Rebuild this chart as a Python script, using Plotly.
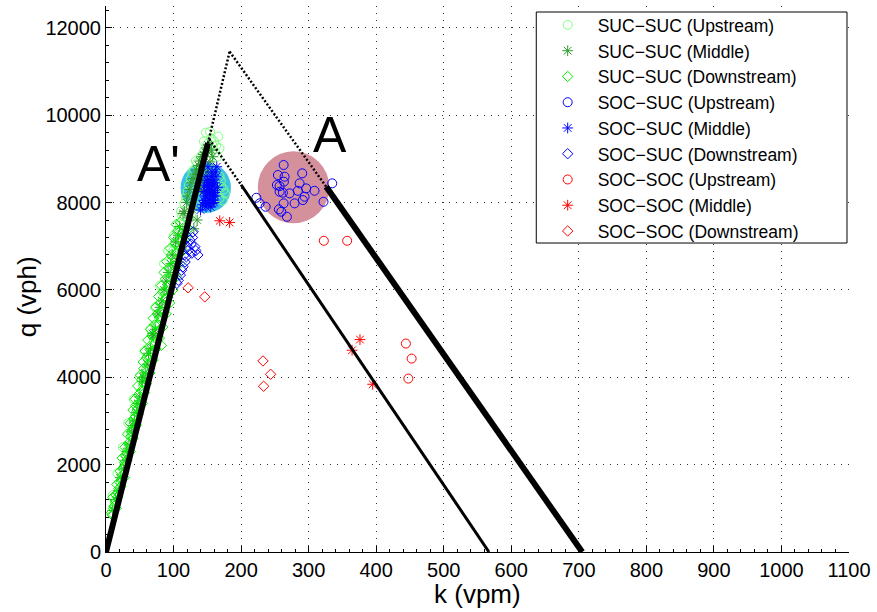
import plotly.graph_objects as go

# ---------------- data ----------------
# SUC-SUC Upstream (light green circles)
suc_up_k = [13, 22, 30, 38, 47, 55, 63, 70, 78, 84, 90, 95, 100, 104, 106, 110, 113, 116, 121, 126,
            130, 135, 140, 146, 151, 154, 156, 160, 166, 163, 168, 165, 171, 176, 173, 168, 131, 137,
            142, 126, 120, 115, 97, 88, 75, 108, 60, 43, 27, 18,
            10, 17, 25, 33, 41, 50, 57, 66, 73, 80, 86, 92, 101, 111, 118, 123, 128, 133, 145, 148,
            158, 162, 170, 174, 168]
suc_up_q = [1100, 1600, 2200, 2700, 3300, 3800, 4400, 4900, 5400, 5800, 6200, 6500, 6900, 7100, 7300,
            7500, 7700, 7980, 8250, 8550, 8750, 8900, 9050, 9200, 9350, 9620, 9470, 9400, 9510, 9300,
            9240, 9050, 8360, 8210, 8050, 8600, 7950, 8300, 8600, 7700, 7400, 7250, 6700, 6000, 5200,
            6950, 4200, 3100, 2000, 1350,
            1300, 1800, 2400, 2950, 3500, 4000, 4600, 5100, 5600, 6100, 6600, 6900, 7250, 7800, 8100,
            8400, 8700, 8950, 9400, 9600, 9300, 9150, 8500, 8300, 8100]

# SUC-SUC Middle (dark green asterisks)
suc_mid_k = [10, 18, 26, 34, 42, 50, 58, 66, 73, 80, 86, 92, 98, 103, 109, 114, 119, 124, 129, 134,
             139, 144, 149, 151, 156, 158, 154, 150, 146, 140, 135, 130, 127, 122, 117, 112, 106, 100,
             94, 61, 45, 29, 14, 38, 54, 70, 83,
             21, 31, 40, 47, 55, 63, 69, 77, 89, 96, 107, 116, 121, 126, 132, 137, 142, 147]
suc_mid_q = [950, 1400, 1900, 2450, 3000, 3550, 4100, 4650, 5100, 5600, 6000, 6400, 6800, 7100, 7450,
             7750, 8000, 8300, 8550, 8750, 8950, 9100, 9250, 9320, 9200, 9050, 8930, 8700, 8500, 8300,
             7600, 7400, 7850, 7650, 7300, 7000, 6650, 6300, 5900, 4300, 3200, 2100, 1200, 2750, 3900,
             4950, 5750,
             1700, 2300, 2900, 3400, 4000, 4550, 5000, 5450, 6200, 6600, 7250, 7800, 8150, 8450, 8650,
             8850, 9050, 9150]

# SUC-SUC Downstream (bright green diamonds)
suc_dn_k = [9, 11, 14, 15, 19, 20, 24, 25, 28, 29, 33, 34, 37, 39, 42, 44, 46, 49, 51, 53, 56, 58, 61,
            63, 66, 68, 71, 73, 76, 78, 81, 83, 86, 88, 91, 93, 96, 98, 101, 103, 106, 108, 111, 113,
            12, 17, 22, 27, 31, 36, 40, 45, 48, 54, 57, 60, 65, 70, 74, 79, 84, 89, 94, 99, 104, 109,
            114, 118, 82,
            8, 15, 10, 18, 16, 23, 21, 27, 24, 31, 28, 35, 32, 38, 36, 41, 40, 44, 43, 48, 47, 53, 51,
            56, 55, 60, 58, 64, 62, 68, 66, 72, 70, 76, 74, 80, 78, 84, 82, 88, 86, 93, 90, 97, 95,
            102, 100, 106, 104, 110]
suc_dn_q = [850, 1000, 1150, 1300, 1450, 1600, 1750, 1900, 2050, 2200, 2350, 2500, 2650, 2800, 2950,
            3100, 3250, 3400, 3550, 3700, 3850, 4000, 4150, 4300, 4450, 4600, 4750, 4900, 5050, 5200,
            5350, 5500, 5650, 5800, 5950, 6100, 6250, 6400, 6550, 6700, 6850, 7000, 7150, 7300,
            1050, 1250, 1500, 1700, 2100, 2300, 2600, 2900, 3150, 3400, 3650, 3850, 4100, 4400, 4650,
            4900, 5150, 5450, 5700, 6000, 6300, 6600, 6900, 7200, 4730,
            900, 1000, 1250, 1350, 1550, 1650, 1850, 1950, 2150, 2250, 2400, 2450, 2700, 2750, 2950,
            3050, 3250, 3350, 3500, 3600, 3800, 3950, 4050, 4200, 4350, 4450, 4600, 4700, 4850, 4950,
            5100, 5200, 5350, 5450, 5600, 5700, 5850, 5950, 6100, 6250, 6400, 6500, 6650, 6800, 6950,
            7050, 7200, 7350, 7500, 7550]

# SOC-SUC Upstream (blue circles)
soc_suc_up_k = [263, 254.5, 264.4, 263.4, 253, 257, 290.5, 286.6, 296.4, 284, 308.7, 271.8, 261.9, 294,
                279.2, 263, 259.5, 267.8, 322, 334.9, 222.6, 227.5, 236.3, 257, 256, 291.4]
soc_suc_up_q = [8860, 8630, 8592, 8477, 8401, 8378, 8669, 8440, 8325, 8270, 8270, 8211, 8225, 8133,
                7982, 7982, 7790, 7675, 8018, 8440, 8110, 7982, 7904, 8248, 7844, 8057]

# SOC-SUC Middle (blue asterisks)
soc_suc_mid_k = [140, 143, 145, 147, 149, 151, 152, 154, 156, 158, 160, 162, 159, 157, 155, 153, 150,
                 148, 146, 150, 157, 161, 163, 164, 151, 153, 158, 160, 155, 148, 144, 165, 162, 152,
                 156, 159, 149, 154, 161, 147]
soc_suc_mid_q = [7830, 7950, 8050, 8150, 8250, 8350, 8450, 8520, 8600, 8380, 8280, 8150, 8050, 7980,
                 8180, 8300, 8100, 7900, 8400, 8500, 8700, 8450, 8590, 8820, 8820, 8200, 8150, 8000,
                 7900, 8600, 8250, 8350, 8700, 7980, 8420, 8520, 8380, 8050, 8230, 8000]

# SOC-SUC Downstream (blue diamonds)
soc_suc_dn_k = [129, 124, 131.5, 136, 122, 117, 112, 107, 119, 127, 110, 114, 126, 133, 120, 105, 116, 128]
soc_suc_dn_q = [7330, 7140, 6990, 6800, 6910, 6640, 6450, 6220, 6760, 6840, 6340, 6530, 7050, 6900,
                7000, 6150, 6800, 7200]

# SOC-SOC Upstream (red circles)
soc_soc_up_k = [322.5, 357, 444, 452.5, 447.6]
soc_soc_up_q = [7125, 7125, 4772, 4428, 3970]

# SOC-SOC Middle (red asterisks)
soc_soc_mid_k = [168.4, 183, 376, 364.3, 394.8]
soc_soc_mid_q = [7583, 7545, 4863, 4619, 3840]

# SOC-SOC Downstream (red diamonds)
soc_soc_dn_k = [121.6, 146.2, 232.4, 243.7, 233.4]
soc_soc_dn_q = [6048, 5841, 4374, 4069, 3794]

# Fundamental-diagram lines
ff_solid_k, ff_solid_q = [0, 151], [0, 9357]
ff_dot_k, ff_dot_q = [151, 183], [9357, 11457]
capA_dot_k, capA_dot_q = [183, 326], [11457, 8362]
capA_solid_k, capA_solid_q = [326, 705], [8362, 0]
capB_dot_k, capB_dot_q = [153, 200], [9450, 8407]
capB_solid_k, capB_solid_q = [200, 567], [8407, 0]

# Highlight regions (center k, center q, radius k, radius q)
region_Ap = [147.7, 8339, 37.3, 579]
region_A = [277.7, 8348, 53.0, 824]

x_ticks = list(range(0, 1101, 100))
y_ticks = list(range(0, 12001, 2000))

# ---------------- figure ----------------
FONT = "Liberation Sans, Arial, Helvetica, sans-serif"
LG = "#80FF80"
DG = "#2E9B2E"
BG = "#00F000"

fig = go.Figure()

def add(k, q, name, color, symbol, size):
    fig.add_trace(go.Scatter(
        x=k, y=q, mode="markers", name=name,
        marker=dict(symbol=symbol, size=size, color=color,
                    line=dict(color=color, width=1)),
    ))

add(suc_up_k, suc_up_q, "SUC−SUC (Upstream)", LG, "circle-open", 9)
add(suc_mid_k, suc_mid_q, "SUC−SUC (Middle)", DG, "asterisk-open", 9)
add(suc_dn_k, suc_dn_q, "SUC−SUC (Downstream)", BG, "diamond-open", 8)
add(soc_suc_up_k, soc_suc_up_q, "SOC−SUC (Upstream)", "#0000FF", "circle-open", 9)
add(soc_suc_mid_k, soc_suc_mid_q, "SOC−SUC (Middle)", "#0000FF", "asterisk-open", 9)
add(soc_suc_dn_k, soc_suc_dn_q, "SOC−SUC (Downstream)", "#0000FF", "diamond-open", 8)
add(soc_soc_up_k, soc_soc_up_q, "SOC−SOC (Upstream)", "#FF0000", "circle-open", 9)
add(soc_soc_mid_k, soc_soc_mid_q, "SOC−SOC (Middle)", "#FF0000", "asterisk-open", 9)
add(soc_soc_dn_k, soc_soc_dn_q, "SOC−SOC (Downstream)", "#FF0000", "diamond-open", 8)

def line(k, q, width, dash):
    fig.add_trace(go.Scatter(x=k, y=q, mode="lines", showlegend=False, hoverinfo="skip",
                             line=dict(color="black", width=width, dash=dash)))

line(ff_solid_k, ff_solid_q, 6, "solid")
line(ff_dot_k, ff_dot_q, 2.5, "2px,2px")
line(capA_dot_k, capA_dot_q, 2.5, "2px,2px")
line(capA_solid_k, capA_solid_q, 6, "solid")
line(capB_dot_k, capB_dot_q, 2.5, "2px,2px")
line(capB_solid_k, capB_solid_q, 3, "solid")

for reg, col in [(region_Ap, "#3BC1E5"), (region_A, "#D4919C")]:
    ck, cq, rk, rq = reg
    fig.add_shape(type="circle", xref="x", yref="y", x0=ck - rk, x1=ck + rk, y0=cq - rq, y1=cq + rq,
                  fillcolor=col, line=dict(width=0), layer="between")

# legend frame
fig.add_shape(type="rect", xref="paper", yref="paper", x0=0.5791, x1=0.9973, y0=0.5659, y1=0.989,
              fillcolor="white", line=dict(color="black", width=1), layer="above")

fig.add_annotation(x=78, y=8883, xref="x", yref="y", text="A'", showarrow=False,
                   font=dict(family=FONT, size=50, color="black"))
fig.add_annotation(x=332, y=9554, xref="x", yref="y", text="A", showarrow=False,
                   font=dict(family=FONT, size=50, color="black"))

fig.add_annotation(x=0.5, y=-0.077, xref="paper", yref="paper", text="k (vpm)", showarrow=False,
                   yanchor="middle", font=dict(family=FONT, size=26, color="black"))
fig.add_annotation(x=-0.106, y=0.467, xref="paper", yref="paper", text="q (vph)", showarrow=False,
                   textangle=-90, xanchor="center", font=dict(family=FONT, size=26, color="black"))

grid_dash = "1px,6px"
fig.update_xaxes(range=[0, 1100], tickvals=x_ticks, ticktext=[str(v) for v in x_ticks],
                 showline=True, linecolor="black", linewidth=1, ticks="inside", ticklen=6,
                 tickcolor="black", mirror=False, zeroline=False,
                 showgrid=True, gridcolor="#333333", gridwidth=1, griddash=grid_dash,
                 minor=dict(dtick=20, ticks="inside", ticklen=3, tickcolor="black", showgrid=False),
                 tickfont=dict(family=FONT, size=20, color="black"))
fig.update_yaxes(range=[0, 12500], tickvals=y_ticks, ticktext=[str(v) for v in y_ticks],
                 showline=True, linecolor="black", linewidth=1, ticks="inside", ticklen=6,
                 tickcolor="black", mirror=False, zeroline=False,
                 showgrid=True, gridcolor="#333333", gridwidth=1, griddash=grid_dash,
                 minor=dict(dtick=400, ticks="inside", ticklen=3, tickcolor="black", showgrid=False),
                 tickfont=dict(family=FONT, size=20, color="black"))

fig.update_layout(
    width=877, height=612,
    margin=dict(l=106, r=25, t=6, b=60),
    paper_bgcolor="white", plot_bgcolor="white",
    font=dict(family=FONT, color="black"),
    legend=dict(x=0.581, y=0.998, xanchor="left", yanchor="top",
                bgcolor="rgba(0,0,0,0)", borderwidth=0,
                font=dict(family=FONT, size=17.5, color="black"), itemwidth=50),
    showlegend=True,
)

fig.write_html("out.html", config={"displayModeBar": False},
               post_script="document.body.style.margin='0';")
